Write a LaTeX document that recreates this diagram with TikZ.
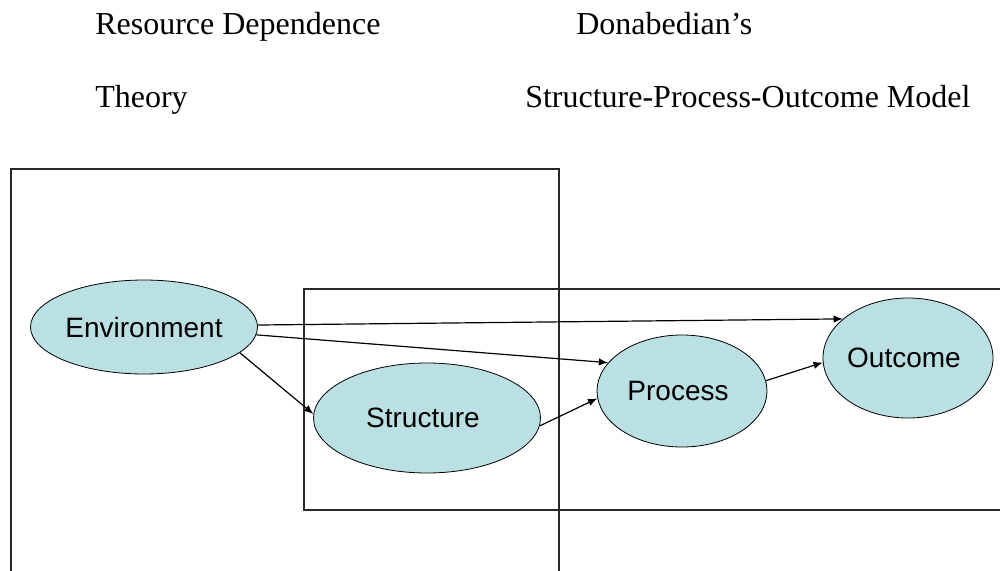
\documentclass[tikz,border=0pt]{standalone}
\usepackage{fontspec}
\setmainfont{Liberation Serif}
\setsansfont{Liberation Sans}
\usetikzlibrary{shapes.geometric,arrows.meta}
\definecolor{ellfill}{RGB}{187,224,227}
\definecolor{boxline}{RGB}{40,40,40}
\tikzset{
  ell/.style={ellipse, draw=black, line width=0.6pt, fill=ellfill, inner sep=0pt,
    font=\sffamily\fontsize{21pt}{25pt}\selectfont},
  title/.style={anchor=base west, inner sep=0pt, font=\fontsize{24pt}{28pt}\selectfont},
  frame/.style={draw=boxline, line width=0.9pt},
  conn/.style={draw=black, line width=0.9pt, -{Latex[length=7pt,width=5.5pt]}}
}
\begin{document}
\begin{tikzpicture}[x=0.75pt,y=-0.75pt]
\useasboundingbox (0,0) rectangle (1000,571);
% titles
\node[title] (t1) at (95,34) {Resource Dependence};
\node[title] (t2) at (95,107) {Theory};
\node[title] (t3) at (576,34) {Donabedian’s};
\node[title] (t4) at (525,107) {Structure-Process-Outcome Model};
% frames
\draw[frame] (11,169) rectangle (559,590);
\draw[frame] (304,289) rectangle (1010,510);
% nodes
\node[ell, minimum width=170.25pt, minimum height=70.5pt] (env) at (144,327) {Environment};
\node[ell, minimum width=170.25pt, minimum height=82.5pt] (str) at (427,418) {\hspace*{-6pt}Structure};
\node[ell, minimum width=127.5pt, minimum height=84pt] (pro) at (682,391) {\hspace*{-6pt}Process};
\node[ell, minimum width=127.5pt, minimum height=90pt] (out) at (908,358) {\hspace*{-6pt}Outcome};
% connectors
\draw[conn] (env.1) -- (out.149);
\draw[conn] (env.-4.6) -- (pro.159);
\draw[conn] (env.-15) -- (str.178);
\draw[conn] (str.-4.5) -- (pro.185);
\draw[conn] (pro.7) -- (out.183);
\end{tikzpicture}
\end{document}
